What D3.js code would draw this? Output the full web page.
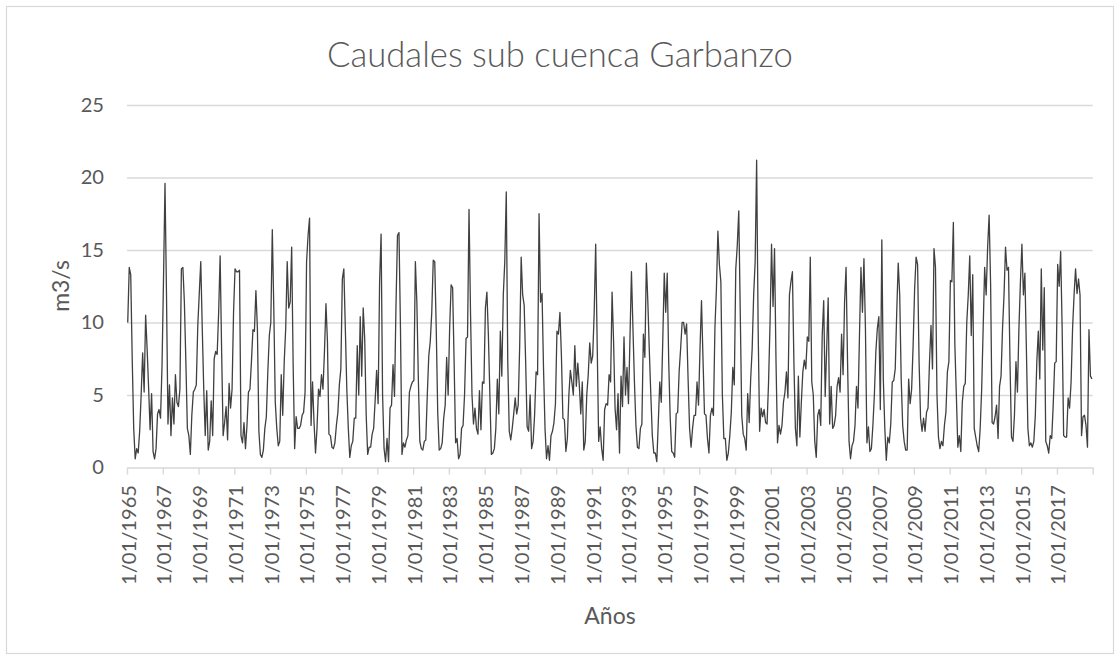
<!DOCTYPE html>
<html><head><meta charset="utf-8">
<script src="https://cdn.jsdelivr.net/npm/d3@7"></script>
<style>body{margin:0;background:#fff;} svg{display:block;}</style>
</head><body><svg id="c" width="1120" height="660"></svg>
<script>
const chartTitle = "Caudales sub cuenca Garbanzo";
const yAxisTitle = "m3/s";
const xAxisTitle = "Años";
const yTicks = [0, 5, 10, 15, 20, 25];
const xTickLabels = ["1/01/1965","1/01/1967","1/01/1969","1/01/1971","1/01/1973","1/01/1975","1/01/1977","1/01/1979","1/01/1981","1/01/1983","1/01/1985","1/01/1987","1/01/1989","1/01/1991","1/01/1993","1/01/1995","1/01/1997","1/01/1999","1/01/2001","1/01/2003","1/01/2005","1/01/2007","1/01/2009","1/01/2011","1/01/2013","1/01/2015","1/01/2017"];

// monthly flows (m3/s), Jan 1965 .. Dec 2018
const caudal1965_1974 = [
10.0,13.8,13.3,7.5,2.7,0.6,1.3,1.0,2.5,5.0,7.9,5.2,
10.5,8.2,5.5,2.6,5.1,1.1,0.6,1.3,3.7,4.0,3.4,7.0,
13.0,19.6,11.9,3.0,5.7,2.2,4.8,3.0,6.4,4.5,4.2,5.4,
13.7,13.8,11.4,7.3,2.7,2.2,0.9,3.6,5.2,5.4,5.7,9.8,
12.0,14.2,9.6,5.4,2.2,5.3,1.2,1.8,4.6,2.2,7.5,8.0,
7.8,10.7,14.6,8.0,2.2,3.1,4.2,1.9,5.8,4.1,5.4,10.7,
13.7,13.5,13.5,13.6,2.2,1.7,3.1,1.3,2.9,5.2,5.4,7.3,
9.5,9.4,12.2,9.6,2.5,0.9,0.7,1.2,2.7,3.5,6.6,9.1,
10.0,16.4,11.0,4.5,2.7,1.5,1.8,6.4,3.6,7.3,9.6,14.2,
11.0,11.4,15.2,7.0,1.3,3.5,2.7,2.7,2.9,3.6,3.8,5.2];
const caudal1975_1984 = [
14.2,16.0,17.2,2.9,5.9,3.1,1.0,2.7,5.4,4.9,6.4,5.4,
8.0,11.3,8.7,2.3,2.2,1.4,1.3,1.7,2.9,3.8,5.7,6.8,
13.0,13.7,9.6,5.4,2.7,0.7,1.5,1.8,3.4,3.4,8.4,5.0,
10.4,6.3,11.0,8.9,3.6,0.9,1.4,1.4,2.3,2.7,4.6,6.7,
4.4,12.8,16.1,5.0,1.3,0.4,2.0,0.4,4.1,4.3,7.1,4.9,
11.2,16.0,16.2,9.6,0.9,1.7,1.4,1.9,2.2,5.2,5.6,5.9,
6.0,14.2,11.4,6.1,1.8,1.3,1.2,1.8,1.9,5.0,7.7,8.7,
10.7,14.3,14.2,9.6,3.8,1.2,1.3,1.7,3.4,4.3,7.6,5.0,
9.6,12.6,12.4,7.3,1.7,2.0,0.6,0.9,2.7,2.9,5.0,8.9,
9.0,17.8,10.7,5.0,3.0,4.1,2.7,2.3,5.3,2.6,5.9,5.8];
const caudal1985_1994 = [
11.0,12.1,9.1,5.0,0.9,1.0,1.3,2.7,6.1,3.7,9.4,6.3,
11.9,14.2,19.0,7.3,2.5,1.9,2.7,3.7,4.8,3.7,4.3,8.4,
14.5,11.9,11.2,7.3,2.8,2.5,5.0,1.3,1.8,3.6,6.6,6.4,
17.5,11.4,12.0,6.8,2.7,0.6,1.5,0.5,2.2,2.5,3.1,4.4,
9.4,9.2,10.7,7.7,3.4,3.3,1.1,2.0,5.0,6.7,5.9,5.0,
8.4,5.6,7.2,5.7,3.7,5.9,1.2,1.8,5.0,6.4,8.6,7.2,
7.7,10.7,15.4,8.5,1.8,2.8,1.3,0.5,4.0,4.4,4.3,6.4,
5.9,12.1,8.7,4.1,2.6,5.1,1.0,6.3,4.2,9.0,5.0,6.9,
4.4,8.9,13.5,9.6,5.9,2.9,1.4,1.3,2.7,3.0,9.2,7.6,
14.1,11.4,8.0,5.0,2.2,1.0,1.0,0.4,3.1,5.9,4.5,8.7];
const caudal1995_2004 = [
13.4,10.7,13.4,7.3,3.4,1.1,1.0,0.7,3.7,3.8,6.6,8.2,
10.0,10.0,9.2,9.9,6.1,2.7,1.4,2.7,3.6,3.6,5.9,4.3,
8.2,11.5,7.5,3.7,3.6,2.0,1.0,3.6,4.1,3.6,9.6,12.3,
16.3,14.0,12.8,5.0,2.0,2.0,0.5,1.0,2.2,3.8,6.9,5.7,
13.7,15.3,17.7,10.7,3.6,2.3,2.0,1.2,5.1,3.1,6.1,8.2,
11.9,14.2,21.2,9.6,2.5,4.1,3.5,4.0,3.1,3.0,5.9,10.0,
15.4,11.1,15.1,7.3,1.7,2.9,2.3,2.9,4.5,5.2,6.6,4.8,
11.9,12.8,13.5,7.3,2.7,1.5,6.3,2.1,4.5,6.6,7.4,6.8,
9.0,8.7,14.5,5.9,5.0,1.8,0.7,3.6,4.0,2.9,9.1,11.5,
4.9,8.2,11.7,3.0,5.6,2.7,2.9,3.6,5.6,6.2,5.2,9.2];
const caudal2005_2014 = [
6.4,11.4,13.8,7.3,1.8,0.6,1.5,1.8,2.9,5.6,4.1,9.1,
13.8,10.7,14.4,9.6,1.7,2.8,1.1,1.3,2.9,5.0,8.0,9.6,
10.4,4.0,15.7,6.1,2.7,0.5,2.1,1.7,3.0,5.9,6.0,6.8,
10.7,14.1,11.9,6.1,2.9,1.8,1.2,1.2,6.1,4.4,5.4,8.4,
12.3,14.5,14.0,7.3,3.4,2.5,3.4,2.5,3.8,4.1,7.3,9.8,
6.8,15.1,13.8,5.0,2.1,1.3,1.8,1.5,2.9,3.8,6.6,7.3,
12.9,12.8,16.9,8.5,5.0,1.4,2.2,1.1,4.5,5.6,5.8,10.0,
11.9,14.6,9.1,13.3,2.7,2.1,1.5,1.1,2.7,5.4,9.6,13.8,
11.9,15.2,17.4,12.6,3.1,3.0,3.5,4.3,2.0,5.6,6.3,9.6,
11.9,15.2,13.6,13.8,7.3,2.1,1.8,3.6,7.3,5.2,9.6,12.8];
const caudal2015_2018 = [
15.4,11.9,13.4,8.2,2.7,1.5,1.7,1.4,1.8,3.6,7.3,9.4,
6.1,13.7,8.1,12.4,1.8,1.5,1.0,2.2,2.0,4.3,7.2,7.3,
14.0,12.5,14.9,9.6,2.2,2.1,2.1,4.8,4.1,5.9,9.6,11.9,
13.7,12.0,13.0,11.9,2.2,3.5,3.6,2.9,1.4,9.5,6.3,6.1];

const values = [].concat(caudal1965_1974, caudal1975_1984, caudal1985_1994,
                         caudal1995_2004, caudal2005_2014, caudal2015_2018);

const svg = d3.select("#c");
const FONT = "Lato, Carlito, 'Open Sans', sans-serif";
const TXT = "#595959", GRID = "#d9d9d9";

function fitSize(text, target, weight) {
  const t = svg.append("text").attr("font-family", FONT).attr("font-weight", weight || 400)
    .attr("font-size", 20).text(text);
  const w = t.node().getComputedTextLength();
  t.remove();
  return 20 * target / w;
}

const plot = {left: 127, right: 1092.7, top: 105, bottom: 467.5};
const x = d3.scaleLinear().domain([0, values.length]).range([plot.left, plot.right]);
const y = d3.scaleLinear().domain([0, 25]).range([plot.bottom, plot.top]);

// chart border
svg.append("rect").attr("x", 6.5).attr("y", 6.5).attr("width", 1107).attr("height", 647)
  .attr("fill", "#fff").attr("stroke", GRID).attr("stroke-width", 1.2);

const tickFs = fitSize("1/01/1965", 100);
const axisTitleFs = fitSize("m3/s", 51.7);
const titleFs = fitSize(chartTitle, 466, 300);

// y axis with gridlines
const yAxis = svg.append("g").attr("transform", `translate(${plot.left},0)`)
  .call(d3.axisLeft(y).tickValues(yTicks).tickSize(-(plot.right - plot.left)).tickPadding(23).tickFormat(d3.format("d")));
yAxis.select(".domain").remove();
yAxis.selectAll(".tick line").attr("stroke", GRID).attr("stroke-width", 1.4);
yAxis.selectAll(".tick text").attr("fill", TXT).attr("font-family", FONT).attr("font-size", tickFs);
yAxis.selectAll(".tick").filter(d => d === 0).select("line").remove();

// x axis
const tickIdx = d3.range(0, values.length + 1, 24);
const xAxis = svg.append("g").attr("transform", `translate(0,${plot.bottom})`)
  .call(d3.axisBottom(x).tickValues(tickIdx).tickSize(7).tickSizeOuter(0)
    .tickFormat(i => xTickLabels[i / 24] || ""));
xAxis.select(".domain").attr("stroke", GRID).attr("stroke-width", 1.4);
xAxis.selectAll(".tick line").attr("stroke", GRID).attr("stroke-width", 1.4);
xAxis.selectAll(".tick text")
  .attr("fill", TXT).attr("font-family", FONT).attr("font-size", tickFs)
  .attr("transform", "rotate(-90)")
  .attr("text-anchor", "end").attr("x", -17.5).attr("y", 1).attr("dy", "0.35em");

// line
const line = d3.line().x((d, i) => x(i + 0.5)).y(d => y(d));
svg.append("path").datum(values).attr("d", line)
  .attr("fill", "none").attr("stroke", "#404040").attr("stroke-width", 1.3)
  .attr("stroke-linejoin", "round");

// titles
svg.append("text").attr("x", 560).attr("y", 67).attr("text-anchor", "middle")
  .attr("font-family", FONT).attr("font-weight", 300).attr("font-size", titleFs)
  .attr("fill", TXT).text(chartTitle);
svg.append("text").attr("transform", "translate(59.5,286) rotate(-90)")
  .attr("text-anchor", "middle").attr("dominant-baseline", "central")
  .attr("font-family", FONT).attr("font-size", axisTitleFs).attr("fill", TXT).text(yAxisTitle);
svg.append("text").attr("x", 610).attr("y", 615).attr("text-anchor", "middle")
  .attr("dominant-baseline", "central")
  .attr("font-family", FONT).attr("font-size", axisTitleFs).attr("fill", TXT).text(xAxisTitle);
</script>
</body></html>
